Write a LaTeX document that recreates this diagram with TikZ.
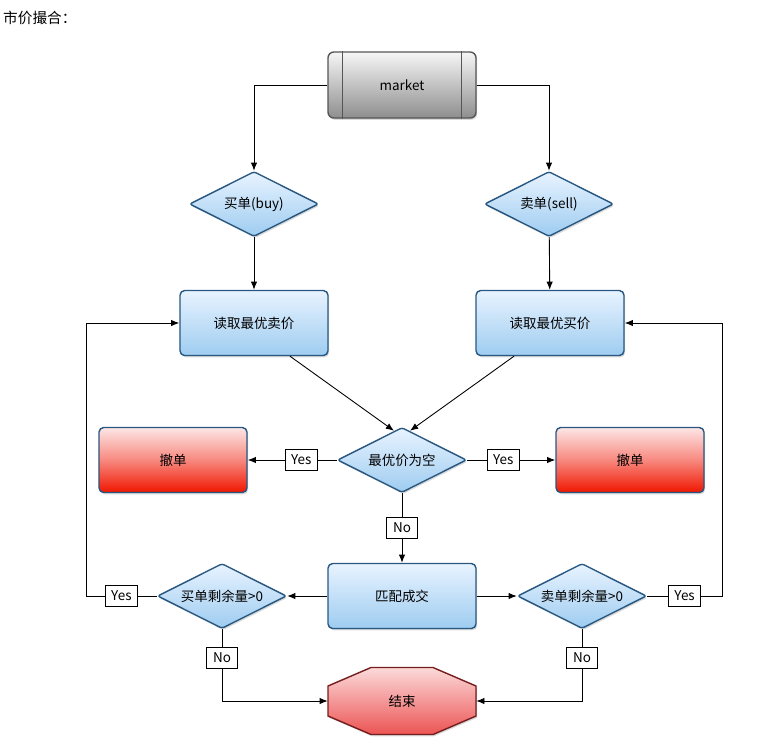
\documentclass[tikz,border=0pt]{standalone}
\usepackage{fontspec}
\setmainfont{Noto Sans CJK SC}
\usepackage{tikz}
\usetikzlibrary{arrows,arrows.meta,shapes,positioning,shadows,calc,backgrounds}
\usepackage{xcolor}
\definecolor{fcborder}{RGB}{40,88,130}
\definecolor{fctop}{RGB}{232,243,255}
\definecolor{fcbottom}{RGB}{158,204,240}
\definecolor{fcredtop}{RGB}{253,230,230}
\definecolor{fcred}{RGB}{240,22,0}
\definecolor{fcendtop}{RGB}{252,218,218}
\definecolor{fcendbottom}{RGB}{236,84,84}
\definecolor{fcendborder}{RGB}{118,30,30}
\definecolor{fcgraytop}{RGB}{246,246,246}
\definecolor{fcgraybottom}{RGB}{142,142,142}
\definecolor{fcgrayborder}{RGB}{85,85,85}
\tikzstyle{arrow} = [line width=0.75pt,->,>={Latex[length=7pt,width=5.5pt]}]
\tikzstyle{line} = [line width=0.75pt]
\tikzstyle{procbox} = [rectangle, rounded corners=4pt, minimum width=4.44cm, minimum height=1.95cm, draw=fcborder, line width=1.2pt, top color=fctop, bottom color=fcbottom, drop shadow={opacity=0.3, shadow xshift=1pt, shadow yshift=-1.5pt}, font=\fontsize{11.5}{13}\selectfont]
\tikzstyle{cancelbox} = [procbox, top color=fcredtop, bottom color=fcred, middle color=fcred!45!fcredtop]
\tikzstyle{decision} = [diamond, aspect=2, rounded corners=2pt, minimum width=3.87cm, minimum height=1.95cm, inner sep=1pt, draw=fcborder, line width=1.2pt, top color=fctop, bottom color=fcbottom, drop shadow={opacity=0.3, shadow xshift=1pt, shadow yshift=-1.5pt}, font=\fontsize{11.5}{13}\selectfont]
\tikzstyle{subproc} = [rectangle, rounded corners=5pt, minimum width=4.44cm, minimum height=1.98cm, draw=fcgrayborder, line width=1.2pt, top color=fcgraytop, bottom color=fcgraybottom, drop shadow={opacity=0.3, shadow xshift=1pt, shadow yshift=-1.5pt}, font=\fontsize{11.5}{13}\selectfont]
\tikzstyle{lbl} = [rectangle, draw, fill=white, line width=0.7pt, inner sep=1.5pt, minimum width=0.95cm, minimum height=0.62cm, font=\fontsize{11.5}{13}\selectfont]

\begin{document}
\begin{tikzpicture}[x=0.03cm, y=-0.03cm]
\useasboundingbox (0,0) rectangle (764,744);

% Title
\node[anchor=west, inner sep=0pt, font=\fontsize{12.5}{14}\selectfont] (title) at (3,18) {市价撮合：};

% Market
\node[subproc] (market) at (402,85) {market};
\draw[line, fcgrayborder] ([xshift=0.45cm]market.north west) -- ([xshift=0.45cm]market.south west);
\draw[line, fcgrayborder] ([xshift=-0.45cm]market.north east) -- ([xshift=-0.45cm]market.south east);

% Buy / sell
\node[decision] (buy) at (254,204) {买单(buy)};
\node[decision] (sell) at (549,204) {卖单(sell)};
\node[procbox] (rsell) at (254,323) {读取最优卖价};
\node[procbox] (rbuy) at (550,323) {读取最优买价};

% Best price check
\node[decision] (empty) at (402,460) {最优价为空};
\node[cancelbox] (cancelL) at (173,460) {撤单};
\node[cancelbox] (cancelR) at (630,460) {撤单};

% Match
\node[procbox] (match) at (402,596) {匹配成交};
\node[decision] (brem) at (222,596) {买单剩余量>0};
\node[decision] (srem) at (582,596) {卖单剩余量>0};
\coordinate (lloop) at (86,596);
\coordinate (rloop) at (722,596);

% End
\node[minimum width=4.44cm, minimum height=2.01cm, font=\fontsize{11.5}{13}\selectfont] (end) at (402,701) {结束};
\begin{scope}[on background layer]
\filldraw[draw=fcendborder, line width=1.2pt, top color=fcendtop, bottom color=fcendbottom, drop shadow={opacity=0.3, shadow xshift=1pt, shadow yshift=-1.5pt}]
  ($(end.center)+(-74,-15)$) -- ($(end.center)+(-31,-33.5)$) -- ($(end.center)+(31,-33.5)$) -- ($(end.center)+(74,-15)$)
  -- ($(end.center)+(74,15)$) -- ($(end.center)+(31,33.5)$) -- ($(end.center)+(-31,33.5)$) -- ($(end.center)+(-74,15)$) -- cycle;
\end{scope}

% Arrows
\draw[arrow] (market.west) -| (buy.north);
\draw[arrow] (market.east) -| (sell.north);
\draw[arrow] (buy) -- (rsell);
\draw[arrow] (sell) -- (rbuy);
\draw[arrow] ([xshift=1.08cm]rsell.south) -- ([shift={(-8,4)}]empty.north);
\draw[arrow] ([xshift=-1.08cm]rbuy.south) -- ([shift={(8,4)}]empty.north);
\draw[arrow] (empty) -- node[lbl, pos=0.4] {Yes} (cancelL);
\draw[arrow] (empty) -- node[lbl, pos=0.41] {Yes} (cancelR);
\draw[arrow] (empty) -- node[lbl] {No} (match);
\draw[arrow] (match) -- (brem);
\draw[arrow] (match) -- (srem);
\draw[arrow] (brem.west) -- node[lbl] {Yes} (lloop) |- (rsell.west);
\draw[arrow] (srem.east) -- node[lbl] {Yes} (rloop) |- (rbuy.east);
\draw[arrow] (brem.south) |- node[lbl, pos=0.2] {No} (end.west);
\draw[arrow] (srem.south) |- node[lbl, pos=0.2] {No} (end.east);
\end{tikzpicture}
\end{document}
